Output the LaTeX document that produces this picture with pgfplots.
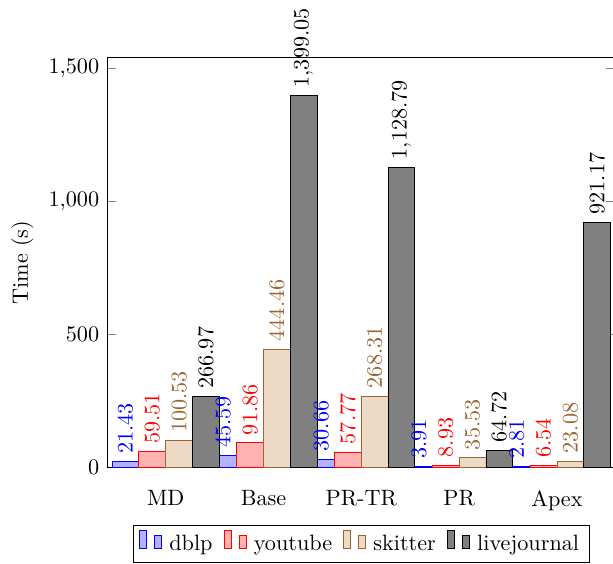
\documentclass[border=0pt]{standalone}
\usepackage{pgfplots}
\pgfplotsset{compat=1.18}
\colorlet{skcol}{brown!80!black}
\begin{document}
\begin{tikzpicture}
\begin{axis}[
 scale only axis, width=229.1pt, height=184.4pt,
 ybar=0pt, bar width=12.07pt,
 xmin=-0.6, xmax=4.6, ymin=0, ymax=1539,
 xtick={0,1,2,3,4}, xticklabels={MD,Base,PR-TR,PR,Apex},
 x tick style={draw=none},
 xticklabel style={yshift=-2.5pt},
 ytick={0,500,1000,1500},
 ylabel={Time (s)},
 nodes near coords,
 every node near coord/.append style={rotate=90, anchor=west},
 legend image code/.code={\draw[#1,/tikz/.cd,bar width=3.2pt,yshift=-0.2em,bar shift=0pt] plot coordinates {(0cm,0.8em) (6.8pt,0.6em)};},
 legend style={at={(0.5,-0.1417)}, anchor=north, legend columns=-1, inner xsep=2.5pt,
   /tikz/every odd column/.append style={column sep=1.2pt},
   /tikz/every even column/.append style={column sep=3pt}},
]
\addplot[draw=blue, fill=blue!30, every node near coord/.append style={text=blue}] coordinates {(0,21.43) (1,45.59) (2,30.66) (3,3.91) (4,2.81)};
\addplot[draw=red, fill=red!30, every node near coord/.append style={text=red}] coordinates {(0,59.51) (1,91.86) (2,57.77) (3,8.93) (4,6.54)};
\addplot[draw=skcol, fill=brown!30, every node near coord/.append style={text=skcol}] coordinates {(0,100.53) (1,444.46) (2,268.31) (3,35.53) (4,23.08)};
\addplot[draw=black, fill=gray, every node near coord/.append style={text=black}] coordinates {(0,266.97) (1,1399.05) (2,1128.79) (3,64.72) (4,921.17)};
\legend{dblp,youtube,skitter,livejournal}
\end{axis}
\pgfresetboundingbox
\path[use as bounding box] ([shift={(-48.2pt,-43.1pt)}]current axis.south west) rectangle ([shift={(227.9pt,210.5pt)}]current axis.south west);
\end{tikzpicture}
\end{document}
